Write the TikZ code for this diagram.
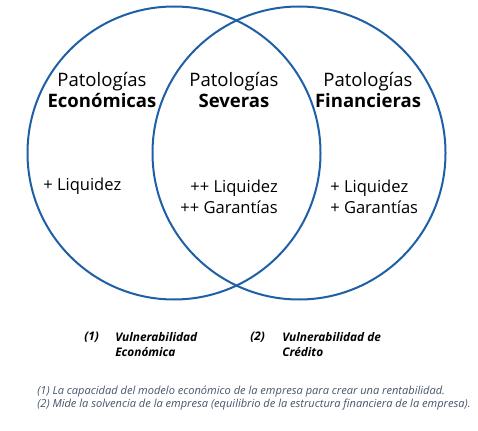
\documentclass[tikz,border=0pt]{standalone}
\usepackage{fontspec}
\setmainfont{Open Sans}
\definecolor{vennblue}{HTML}{1F5FA6}
\definecolor{notegray}{HTML}{44546A}
\tikzset{
  venn/.style={draw=vennblue, line width=1.5pt},
  title/.style={align=center, inner sep=0pt, font=\fontsize{13.9}{15.75}\selectfont},
  body/.style={inner sep=0pt, font=\fontsize{12.4}{15.75}\selectfont},
  key/.style={inner sep=0pt, align=left, font=\fontsize{8.9}{11.2}\selectfont\bfseries\itshape},
  note/.style={inner sep=0pt, align=left, text=notegray, font=\fontsize{8.3}{8.1}\selectfont\itshape}
}
\begin{document}
\begin{tikzpicture}[x=0.75pt, y=-0.75pt, line join=round, line cap=round]
			\useasboundingbox (0,0) rectangle (478,431);
			\def\r{146.5} \def\cy{153}
			\coordinate (ce) at (174,\cy);
			\coordinate (cf) at (299,\cy);
			\draw[venn] (ce) circle (\r);
			\draw[venn] (cf) circle (\r);
			% titles
			\node[title] (econ) at (102,89.5) {Patologías\\\textbf{Económicas}};
			\node[title] (sev) at (234,89.5) {Patologías\\\textbf{Severas}};
			\node[title] (fin) at (368,89.5) {Patologías\\\textbf{Financieras}};
			% contents
			\node[body, anchor=west] (econliq) at (43,186) {+ Liquidez};
			\node[body, align=right, anchor=east] (sevliq) at (278,196.5) {++ Liquidez\\++ Garantías};
			\node[body, align=left, anchor=west] (finliq) at (330,196.5) {+ Liquidez\\+ Garantías};
			% key
			\node[key, anchor=west] (k1) at (84,337) {(1)};
			\node[key, anchor=west] (v1) at (115,344.5) {Vulnerabilidad\\Económica};
			\node[key, anchor=west] (k2) at (250,337) {(2)};
			\node[key, anchor=west] (v2) at (282,344.5) {Vulnerabilidad de\\Crédito};
			\node[note, anchor=west] (notes) at (37,398) {(1) La capacidad del modelo económico de la empresa para crear una rentabilidad.\\(2) Mide la solvencia de la empresa (equilibrio de la estructura financiera de la empresa).};
		\end{tikzpicture}
\end{document}
